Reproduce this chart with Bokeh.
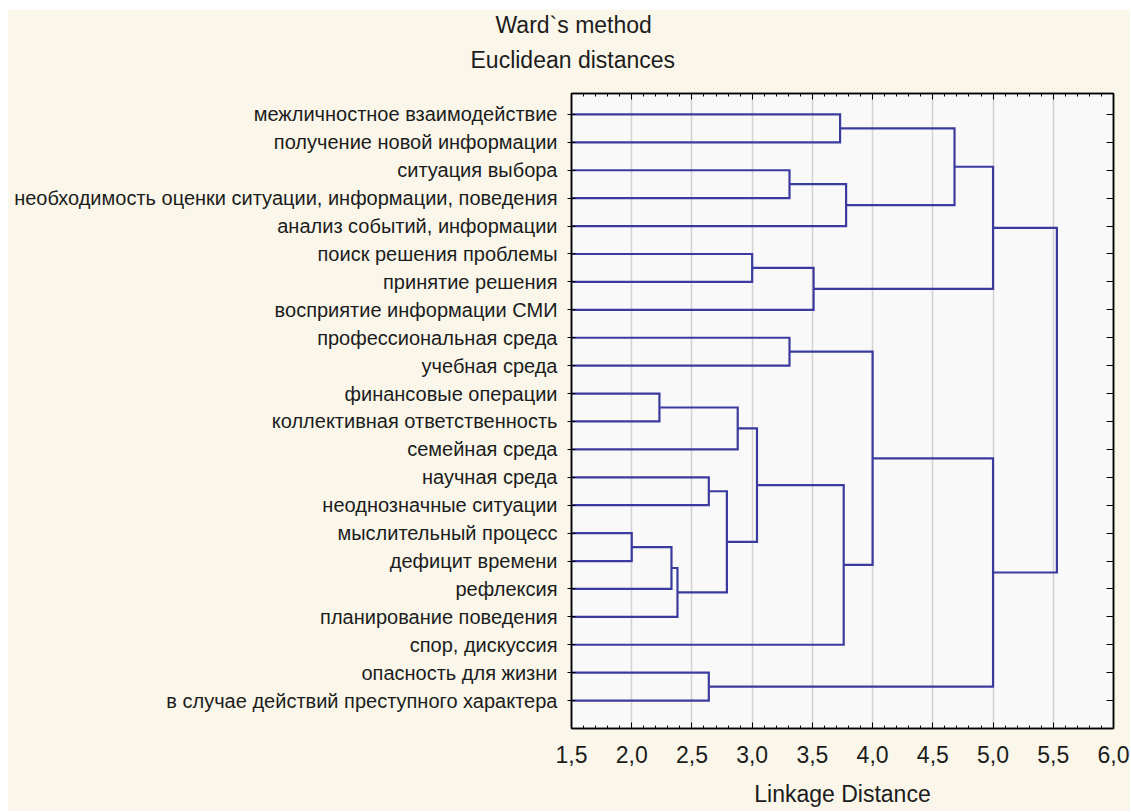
from bokeh.plotting import figure
from bokeh.models import (Range1d, LinearAxis, FixedTicker, SingleIntervalTicker,
                          CustomJSTickFormatter, Title)
from bokeh.embed import file_html
from bokeh.resources import INLINE

# ---- data ----
leaves = [
    "межличностное взаимодействие",
    "получение новой информации",
    "ситуация выбора",
    "необходимость оценки ситуации, информации, поведения",
    "анализ событий, информации",
    "поиск решения проблемы",
    "принятие решения",
    "восприятие информации СМИ",
    "профессиональная среда",
    "учебная среда",
    "финансовые операции",
    "коллективная ответственность",
    "семейная среда",
    "научная среда",
    "неоднозначные ситуации",
    "мыслительный процесс",
    "дефицит времени",
    "рефлексия",
    "планирование поведения",
    "спор, дискуссия",
    "опасность для жизни",
    "в случае действий преступного характера",
]
# merges: new cluster id = len(leaves) + index
merge_a = [15, 10, 22, 24, 13, 20, 26, 23, 5, 29, 2, 8, 30, 0, 31, 32, 33, 35, 39, 38, 40]
merge_b = [16, 11, 17, 18, 14, 21, 25, 12, 6, 28, 3, 9, 7, 1, 19, 4, 36, 37, 34, 27, 41]
merge_dist = [2.00, 2.23, 2.33, 2.38, 2.64, 2.64, 2.79, 2.88, 3.00, 3.04, 3.31, 3.31,
              3.51, 3.73, 3.76, 3.78, 4.00, 4.68, 5.00, 5.00, 5.53]
x_ticks = [1.5, 2.0, 2.5, 3.0, 3.5, 4.0, 4.5, 5.0, 5.5, 6.0]

title1 = "Ward`s method"
title2 = "Euclidean distances"
x_label = "Linkage Distance"

# ---- build dendrogram paths ----
X_MIN = x_ticks[0]
n = len(leaves)
pos_y = {i: float(i) for i in range(n)}
pos_x = {i: X_MIN for i in range(n)}
xs, ys = [], []
for k, (a, b, d) in enumerate(zip(merge_a, merge_b, merge_dist)):
    xs.append([pos_x[a], d, d, pos_x[b]])
    ys.append([pos_y[a], pos_y[a], pos_y[b], pos_y[b]])
    cid = n + k
    pos_y[cid] = (pos_y[a] + pos_y[b]) / 2.0
    pos_x[cid] = d

FONT = "Liberation Sans"
TXT = "#1c1c1c"
LINE = "#3b3b9f"
BG = "#faf7ea"

p = figure(width=1123, height=802, output_backend="svg", toolbar_location=None,
           margin=(9, 0, 0, 7),
           x_range=Range1d(x_ticks[0], x_ticks[-1]),
           y_range=Range1d(n, -0.75),
           x_axis_location="below", y_axis_location="left",
           min_border_left=564, min_border_right=17, min_border_top=83, min_border_bottom=83)
p.border_fill_color = BG
p.background_fill_color = "#f9f9f9"
p.outline_line_color = "black"
p.outline_line_width = 1.5

p.multi_line(xs, ys, line_color=LINE, line_width=2.2, line_join="miter")

# x axis
xt = SingleIntervalTicker(interval=0.5, num_minor_ticks=5)
xa = p.xaxis[0]
xa.ticker = xt
xa.formatter = CustomJSTickFormatter(code="return tick.toFixed(1).replace('.', ',')")
xa.major_tick_in = 6
xa.major_tick_out = 0
xa.minor_tick_in = 3
xa.minor_tick_out = 0
xa.major_label_standoff = 17
xa.major_label_text_font = FONT
xa.major_label_text_font_size = "23px"
xa.major_label_text_color = TXT
xa.axis_label = x_label
xa.axis_label_text_font = FONT
xa.axis_label_text_font_size = "23px"
xa.axis_label_text_font_style = "normal"
xa.axis_label_text_color = TXT
xa.axis_label_standoff = 15
xa.axis_line_color = "black"
xa.axis_line_width = 1.5

# y axis with leaf labels
ya = p.yaxis[0]
ya.ticker = FixedTicker(ticks=list(range(n)))
ya.major_label_overrides = {i: s for i, s in enumerate(leaves)}
ya.major_tick_in = 4
ya.major_tick_out = 4
ya.minor_tick_line_color = None
ya.major_label_standoff = 10
ya.major_label_text_font = FONT
ya.major_label_text_font_size = "20px"
ya.major_label_text_color = TXT
ya.axis_line_color = "black"
ya.axis_line_width = 1.5

empty = CustomJSTickFormatter(code="return ''")
# top axis: ticks only; a blank (no-break space) axis label reserves room below the titles
top = LinearAxis(ticker=SingleIntervalTicker(interval=0.5, num_minor_ticks=5), formatter=empty,
                 major_tick_in=6, major_tick_out=0, minor_tick_in=3, minor_tick_out=0,
                 major_label_text_font_size="1px", major_label_standoff=0,
                 axis_label="\u00a0", axis_label_text_font_size="2px",
                 axis_label_standoff=9, axis_label_text_color=BG,
                 axis_line_color="black", axis_line_width=1.5)
p.add_layout(top, "above")
right = LinearAxis(ticker=FixedTicker(ticks=list(range(n))), formatter=empty,
                   major_tick_in=7, major_tick_out=0, minor_tick_line_color=None,
                   major_label_text_font_size="1px",
                   axis_line_color="black", axis_line_width=1.5)
p.add_layout(right, "right")

p.xgrid.ticker = xt
p.xgrid.grid_line_color = "#d2d2d2"
p.xgrid.grid_line_width = 1.5
p.ygrid.grid_line_color = None

p.title = None
for txt, off, so in [(title2, -101, 14), (title1, -76, 0)]:
    p.add_layout(Title(text=txt, align="left", offset=off, standoff=so,
                       text_font=FONT, text_font_size="23px", text_font_style="normal",
                       text_color=TXT), "above")

open("out.html", "w").write(file_html(p, INLINE))
